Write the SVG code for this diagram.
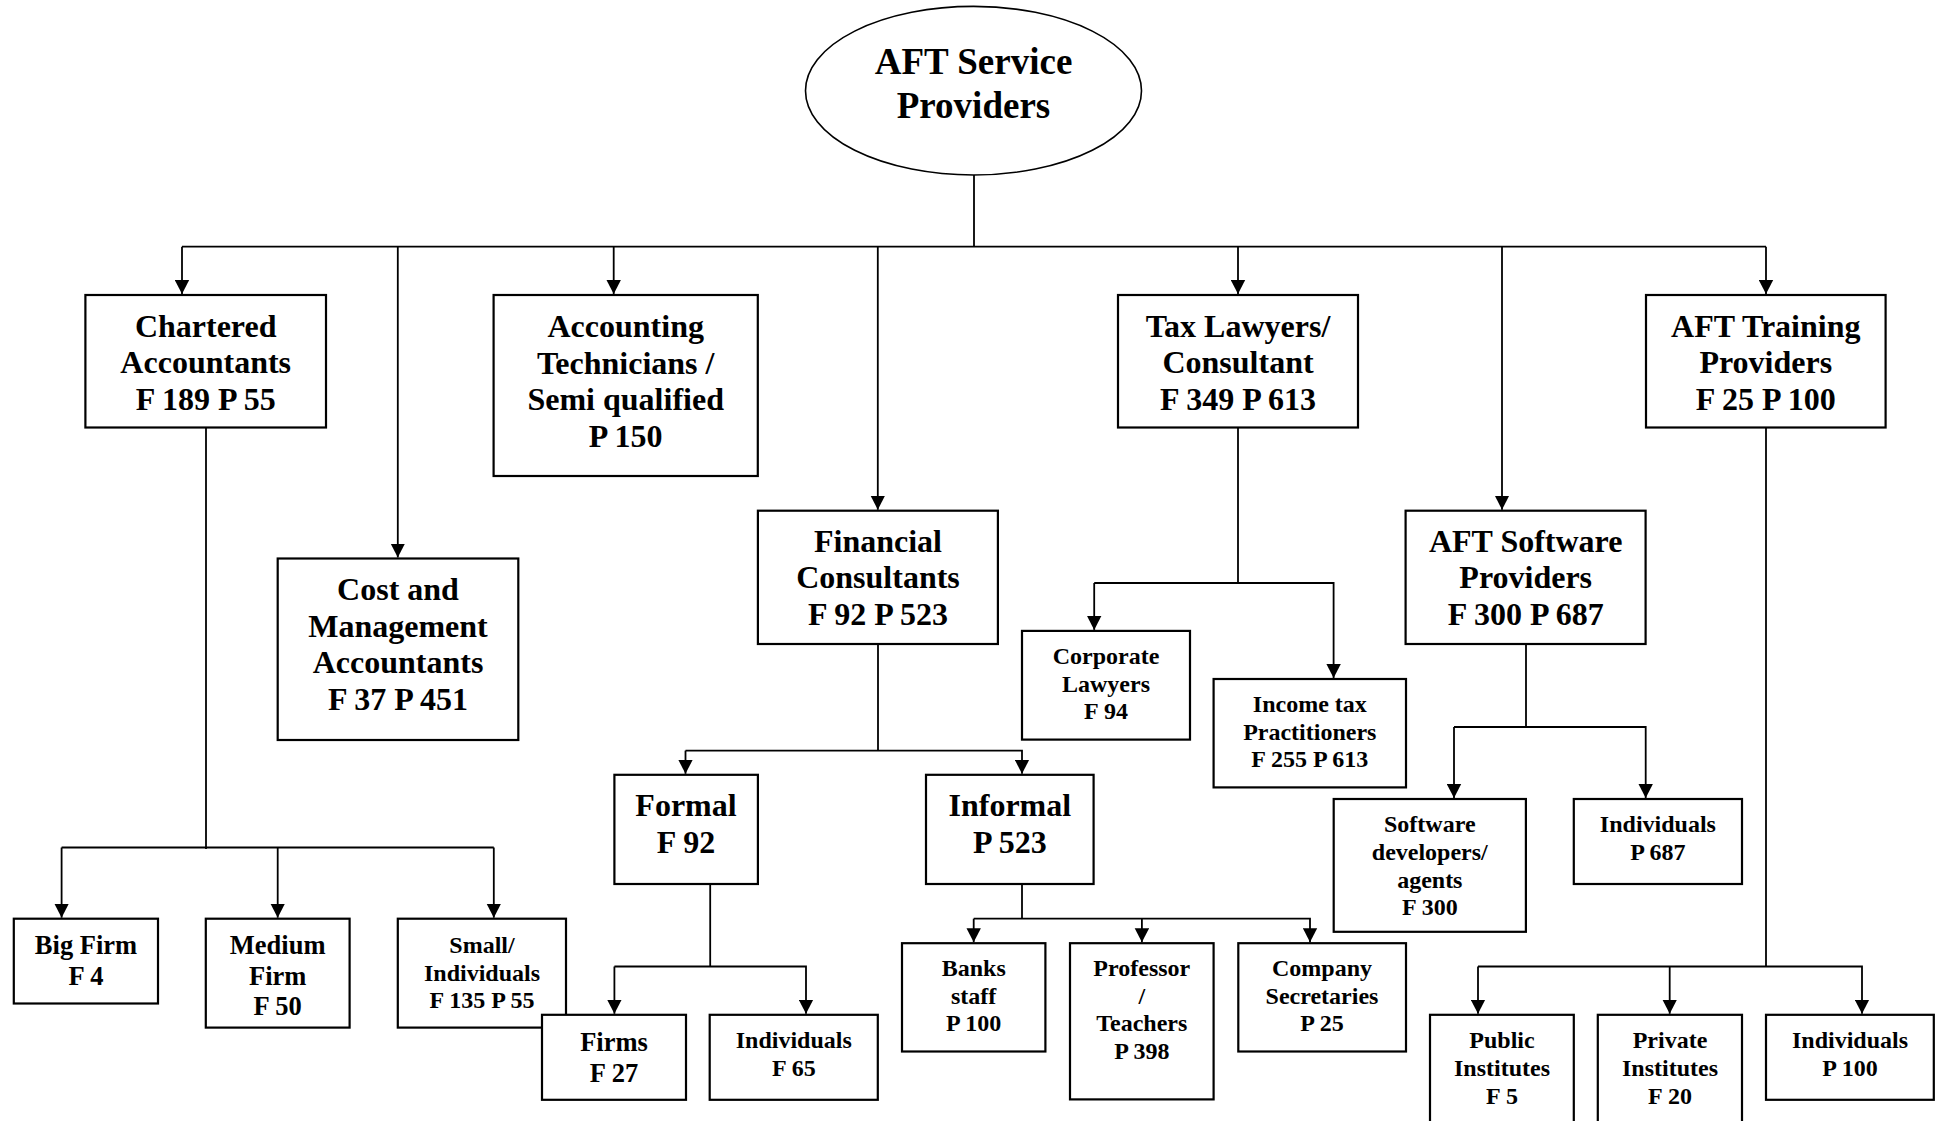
<svg xmlns="http://www.w3.org/2000/svg" width="1937" height="1121" viewBox="0 0 1937 1121">
<style>
.bg{fill:#fff}
.box{fill:#fff;stroke:#000;stroke-width:2.2}
.oval{fill:#fff;stroke:#000;stroke-width:1.6}
.c{fill:none;stroke:#000;stroke-width:1.8}
.a{fill:none;stroke:#000;stroke-width:1.8;marker-end:url(#arr)}
text{font-family:"Liberation Serif","Times New Roman",serif;font-weight:bold;text-anchor:middle;fill:#000}
.t37{font-size:37px}
.t32{font-size:32px}
.t26{font-size:26.5px}
.t24{font-size:24px}
</style>
<defs>
<marker id="arr" markerUnits="userSpaceOnUse" markerWidth="14" markerHeight="15" refX="14" refY="7.2" orient="auto" viewBox="0 0 14 14.4">
<path d="M0,0 L14,7.2 L0,14.4 z" fill="#000"/>
</marker>
</defs>
<rect class="bg" x="0" y="0" width="1937" height="1121"/>

<g id="connectors">
<path class="c" d="M974,175 V246.7"/>
<path class="c" d="M182,246.7 H1766"/>
<path class="a" d="M182,246.7 V294"/>
<path class="a" d="M397.8,246.7 V557.5"/>
<path class="a" d="M613.7,246.7 V294"/>
<path class="a" d="M877.8,246.7 V509.7"/>
<path class="a" d="M1238,246.7 V294"/>
<path class="a" d="M1502,246.7 V509.7"/>
<path class="a" d="M1766,246.7 V294"/>

<path class="c" d="M206,427.5 V849"/>
<path class="c" d="M61.6,847.5 H493.8"/>
<path class="a" d="M61.6,847.5 V917.7"/>
<path class="a" d="M277.7,847.5 V917.7"/>
<path class="a" d="M493.8,847.5 V917.7"/>

<path class="c" d="M878,644 V750.6"/>
<path class="a" d="M685.5,750.6 H1022 V773.8"/>
<path class="a" d="M685.5,750.6 V773.8"/>

<path class="c" d="M710.2,884 V966.5"/>
<path class="a" d="M614.4,966.5 V1013.8"/>
<path class="a" d="M614.4,966.5 H806 V1013.8"/>

<path class="c" d="M1022,884 V918.7"/>
<path class="a" d="M973.7,918.7 V942.2"/>
<path class="a" d="M1141.9,918.7 V942.2"/>
<path class="a" d="M973.7,918.7 H1310 V942.2"/>

<path class="c" d="M1238,427.5 V583"/>
<path class="a" d="M1094.2,583 V629.9"/>
<path class="a" d="M1094.2,583 H1333.6 V678"/>

<path class="c" d="M1526,644 V727"/>
<path class="a" d="M1454,727 V798"/>
<path class="a" d="M1454,727 H1645.7 V798"/>

<path class="c" d="M1766,427.5 V966.5"/>
<path class="a" d="M1478,966.5 V1013.8"/>
<path class="a" d="M1669.7,966.5 V1013.8"/>
<path class="a" d="M1478,966.5 H1862 V1013.8"/>
</g>

<g id="root">
<ellipse class="oval" cx="973.5" cy="90.7" rx="168" ry="84.3"/>
<text class="t37" x="973.5" y="74">AFT Service</text>
<text class="t37" x="973.5" y="117.5">Providers</text>
</g>

<g id="chartered">
<rect class="box" x="85.4" y="295" width="240.6" height="132.5"/>
<text class="t32" x="205.7" y="336.6">Chartered</text>
<text class="t32" x="205.7" y="373">Accountants</text>
<text class="t32" x="205.7" y="409.5">F 189 P 55</text>
</g>

<g id="accounting">
<rect class="box" x="493.6" y="295" width="264.2" height="181"/>
<text class="t32" x="625.7" y="337">Accounting</text>
<text class="t32" x="625.7" y="373.5">Technicians /</text>
<text class="t32" x="625.7" y="410">Semi qualified</text>
<text class="t32" x="625.7" y="446.5">P 150</text>
</g>

<g id="tax">
<rect class="box" x="1118" y="295" width="240" height="132.5"/>
<text class="t32" x="1238" y="336.6">Tax Lawyers/</text>
<text class="t32" x="1238" y="373">Consultant</text>
<text class="t32" x="1238" y="409.5">F 349 P 613</text>
</g>

<g id="training">
<rect class="box" x="1646" y="295" width="239.6" height="132.5"/>
<text class="t32" x="1765.8" y="336.6">AFT Training</text>
<text class="t32" x="1765.8" y="373">Providers</text>
<text class="t32" x="1765.8" y="409.5">F 25 P 100</text>
</g>

<g id="cost">
<rect class="box" x="277.7" y="558.5" width="240.6" height="181.5"/>
<text class="t32" x="398" y="600">Cost and</text>
<text class="t32" x="398" y="636.5">Management</text>
<text class="t32" x="398" y="673">Accountants</text>
<text class="t32" x="398" y="709.5">F 37 P 451</text>
</g>

<g id="financial">
<rect class="box" x="757.9" y="510.7" width="240" height="133.3"/>
<text class="t32" x="878" y="551.7">Financial</text>
<text class="t32" x="878" y="588">Consultants</text>
<text class="t32" x="878" y="624.5">F 92 P 523</text>
</g>

<g id="software">
<rect class="box" x="1405.6" y="510.7" width="240" height="133.3"/>
<text class="t32" x="1525.7" y="551.7">AFT Software</text>
<text class="t32" x="1525.7" y="588">Providers</text>
<text class="t32" x="1525.7" y="624.5">F 300 P 687</text>
</g>

<g id="formal">
<rect class="box" x="614.4" y="774.8" width="143.5" height="109.2"/>
<text class="t32" x="686" y="816">Formal</text>
<text class="t32" x="686" y="852.5">F 92</text>
</g>

<g id="informal">
<rect class="box" x="926" y="774.8" width="167.6" height="109.2"/>
<text class="t32" x="1009.8" y="816">Informal</text>
<text class="t32" x="1009.8" y="852.5">P 523</text>
</g>

<g id="corporate">
<rect class="box" x="1022" y="630.9" width="168" height="108.7"/>
<text class="t24" x="1106" y="664">Corporate</text>
<text class="t24" x="1106" y="691.6">Lawyers</text>
<text class="t24" x="1106" y="719.2">F 94</text>
</g>

<g id="incometax">
<rect class="box" x="1213.6" y="679" width="192.4" height="108.4"/>
<text class="t24" x="1309.8" y="712">Income tax</text>
<text class="t24" x="1309.8" y="739.6">Practitioners</text>
<text class="t24" x="1309.8" y="767.2">F 255 P 613</text>
</g>

<g id="bigfirm">
<rect class="box" x="13.8" y="918.7" width="144.2" height="84.8"/>
<text class="t26" x="86" y="954.3">Big Firm</text>
<text class="t26" x="86" y="985">F 4</text>
</g>

<g id="mediumfirm">
<rect class="box" x="205.8" y="918.7" width="143.8" height="108.9"/>
<text class="t26" x="277.7" y="954.3">Medium</text>
<text class="t26" x="277.7" y="984.8">Firm</text>
<text class="t26" x="277.7" y="1015.3">F 50</text>
</g>

<g id="small">
<rect class="box" x="397.8" y="918.7" width="168.2" height="108.9"/>
<text class="t24" x="482" y="953">Small/</text>
<text class="t24" x="482" y="980.5">Individuals</text>
<text class="t24" x="482" y="1008">F 135 P 55</text>
</g>

<g id="firms">
<rect class="box" x="542" y="1014.8" width="144" height="85"/>
<text class="t26" x="614" y="1050.7">Firms</text>
<text class="t26" x="614" y="1081.5">F 27</text>
</g>

<g id="individuals65">
<rect class="box" x="709.7" y="1014.8" width="168.1" height="85"/>
<text class="t24" x="793.8" y="1048.3">Individuals</text>
<text class="t24" x="793.8" y="1076">F 65</text>
</g>

<g id="banks">
<rect class="box" x="902" y="943.2" width="143.4" height="108.3"/>
<text class="t24" x="973.7" y="976">Banks</text>
<text class="t24" x="973.7" y="1003.6">staff</text>
<text class="t24" x="973.7" y="1031.2">P 100</text>
</g>

<g id="professor">
<rect class="box" x="1070" y="943.2" width="143.6" height="156.2"/>
<text class="t24" x="1141.8" y="976">Professor</text>
<text class="t24" x="1141.8" y="1003.6">/</text>
<text class="t24" x="1141.8" y="1031.2">Teachers</text>
<text class="t24" x="1141.8" y="1058.8">P 398</text>
</g>

<g id="company">
<rect class="box" x="1238.3" y="943.2" width="167.7" height="108.3"/>
<text class="t24" x="1322" y="976">Company</text>
<text class="t24" x="1322" y="1003.6">Secretaries</text>
<text class="t24" x="1322" y="1031.2">P 25</text>
</g>

<g id="swdevelopers">
<rect class="box" x="1333.7" y="799" width="192.2" height="132.8"/>
<text class="t24" x="1429.8" y="832.4">Software</text>
<text class="t24" x="1429.8" y="860">developers/</text>
<text class="t24" x="1429.8" y="887.6">agents</text>
<text class="t24" x="1429.8" y="915.2">F 300</text>
</g>

<g id="individuals687">
<rect class="box" x="1573.8" y="799" width="168.2" height="85"/>
<text class="t24" x="1657.9" y="832.4">Individuals</text>
<text class="t24" x="1657.9" y="860">P 687</text>
</g>

<g id="public">
<rect class="box" x="1430" y="1014.8" width="143.8" height="120"/>
<text class="t24" x="1502" y="1048.3">Public</text>
<text class="t24" x="1502" y="1076">Institutes</text>
<text class="t24" x="1502" y="1103.6">F 5</text>
</g>

<g id="private">
<rect class="box" x="1597.8" y="1014.8" width="144.2" height="120"/>
<text class="t24" x="1670" y="1048.3">Private</text>
<text class="t24" x="1670" y="1076">Institutes</text>
<text class="t24" x="1670" y="1103.6">F 20</text>
</g>

<g id="individuals100">
<rect class="box" x="1766" y="1014.8" width="167.8" height="85"/>
<text class="t24" x="1850" y="1048.3">Individuals</text>
<text class="t24" x="1850" y="1076">P 100</text>
</g>
</svg>
